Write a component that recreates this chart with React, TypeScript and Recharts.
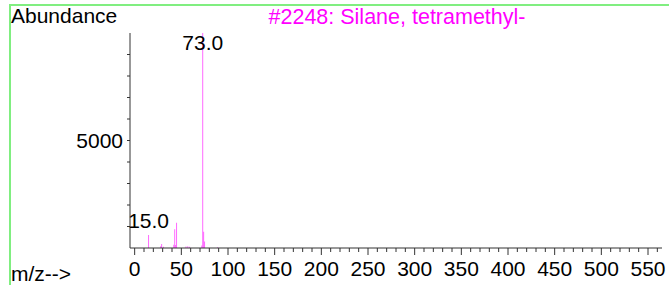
import { Bar, ComposedChart, LabelList, XAxis, YAxis } from "recharts";

// m/z of each peak and its abundance
const mz = [15, 28, 29, 31, 42, 43, 44, 45, 55, 57, 59, 72, 73, 74, 75, 89];
const abundance = [600, 80, 190, 60, 150, 870, 140, 1180, 70, 80, 60, 120, 9999, 760, 300, 40];
const labelledPeaks = [15, 73];

const xTicks = Array.from({ length: 57 }, (_, i) => i * 10);
const yTicks = [1000, 2000, 3000, 4000, 5000, 6000, 7000, 8000, 9000];
const yLabelled = [5000];

const title = "#2248: Silane, tetramethyl-";

const data = mz.map((m, i) => ({ mz: m, abundance: abundance[i] }));

const font = "'Liberation Sans', Arial, sans-serif";
const peakColor = "#ff4dff";
const axisColor = "#333";

document.body.style.margin = "0";

function XTick({ x, y, payload }: any) {
  const major = payload.value % 50 === 0;
  return (
    <g>
      <line x1={x} x2={x} y1={y} y2={y + (major ? 7 : 4)} stroke={axisColor} />
      {major && (
        <text x={x} y={y + 28} textAnchor="middle" fontSize={21} fontFamily={font} fill="#000">
          {payload.value}
        </text>
      )}
    </g>
  );
}

function YTick({ x, y, payload }: any) {
  return (
    <g>
      <line x1={x - 3} x2={x} y1={y} y2={y} stroke={axisColor} />
      {yLabelled.includes(payload.value) && (
        <text x={x - 7} y={y + 7} textAnchor="end" fontSize={21} fontFamily={font} fill="#000">
          {payload.value}
        </text>
      )}
    </g>
  );
}

function PeakLabel({ x, y, width, value }: any) {
  if (!labelledPeaks.includes(value)) return null;
  const base = y - 7 > 45 ? y - 7 : y + 17;
  return (
    <text x={x + width / 2} y={base} textAnchor="middle" fontSize={21} fontFamily={font} fill="#000">
      {Number(value).toFixed(1)}
    </text>
  );
}

export default function App() {
  return (
    <div style={{ position: "relative", width: 669, height: 285, background: "#fff", fontFamily: font }}>
      <ComposedChart
        width={669}
        height={285}
        data={data}
        margin={{ top: 33, right: 7, bottom: 7, left: 70 }}
      >
        <XAxis
          dataKey="mz"
          type="number"
          domain={[-5, 565]}
          ticks={xTicks}
          interval={0}
          height={30}
          tickSize={0}
          tickMargin={0}
          tick={<XTick />}
          stroke={axisColor}
          allowDataOverflow
        />
        <YAxis
          type="number"
          domain={[0, 10000]}
          ticks={yTicks}
          interval={0}
          width={60}
          tickSize={0}
          tickMargin={0}
          tick={<YTick />}
          stroke={axisColor}
        />
        <Bar dataKey="abundance" fill={peakColor} barSize={2} isAnimationActive={false}>
          <LabelList dataKey="mz" content={<PeakLabel />} />
        </Bar>
      </ComposedChart>
      <svg width={669} height={285} style={{ position: "absolute", left: 0, top: 0, pointerEvents: "none" }}>
        <line x1={9} x2={669} y1={5} y2={5} stroke="#80ee80" strokeWidth={2} />
        <line x1={10} x2={10} y1={4} y2={285} stroke="#80ee80" strokeWidth={2} />
        <text x={11} y={23} fontSize={21} fontFamily={font} fill="#000">Abundance</text>
        <text x={397} y={24} textAnchor="middle" fontSize={21.5} fontFamily={font} fill="#ff00ff">{title}</text>
        <text x={11} y={281} fontSize={21} fontFamily={font} fill="#000">m/z--&gt;</text>
      </svg>
    </div>
  );
}
